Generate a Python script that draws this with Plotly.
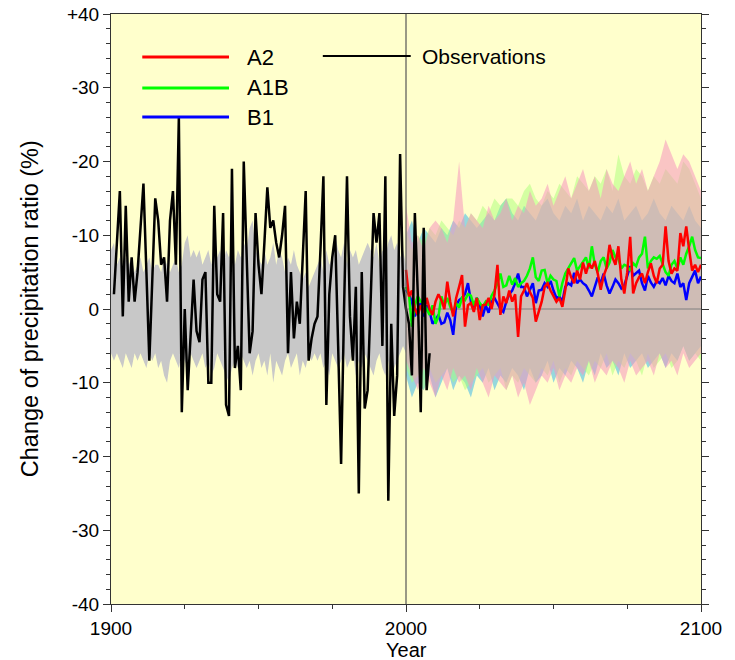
import plotly.graph_objects as go

FONT = "Liberation Sans, Arial, sans-serif"

# ---------------- data ----------------
obs_years = list(range(1901, 2009))
obs_values = [2, 9, 16, -1, 14, 1, 7, 1, 5, 11,
              17, 5, -7, 4, 15, 12, 6, 7, 1, 12,
              16, 6, 26, -14, 0, -11, -3, 4, -3, -4.5,
              4, 5, -10, -10, 14, 2, 1, 13, -13, -14.5,
              19, -8, -5, -11, 20, 7, -6, -3, 13, 6,
              2, 9, 16.5, 11, 12, 9, 7, 10, 14, -6,
              5, -4, 1, -2, 7, 16, -7, -4, -2, -1,
              8, 18, -13, 2, 7, 10, -5, -21, 0, 18,
              -1, -7, 3, -25, 5, -13.5, -11, 2, 13, 9,
              13, -5, 18, -26, -2, -14.5, -9, 21, 3, 0,
              -2, -9, 13, 2, -14, 11, -11, -6]

hist_years = list(range(1900, 2001))
hist_upper = [8, 9, 6, 7, 5, 7, 6, 7, 5, 6,
              7, 5, 6, 7, 5, 6, 6, 5, 7, 6,
              5, 6, 7, 5, 6, 9, 10, 7, 8, 7,
              8, 6, 7, 8, 6, 9, 7, 8, 6, 8,
              7, 9, 6, 8, 7, 9, 8, 11, 12, 8,
              7, 6, 8, 6, 7, 9, 6, 8, 7, 5,
              7, 6, 8, 6, 5, 4, 5, 3, 4, 5,
              6, 7, 5, 8, 6, 7, 10, 8, 7, 9,
              6, 8, 7, 8, 6, 7, 8, 9, 8, 7,
              9, 6, 8, 7, 9, 10, 8, 9, 7, 8,
              6]
hist_lower = [-6, -7, -6, -7, -8, -6, -7, -8, -6, -7,
              -6, -7, -8, -6, -7, -6, -8, -7, -9, -10,
              -7, -6, -7, -8, -6, -7, -8, -6, -7, -8,
              -7, -6, -8, -7, -9, -8, -6, -7, -8, -9,
              -10, -8, -7, -8, -6, -7, -8, -7, -9, -7,
              -6, -8, -7, -9, -6, -10, -7, -8, -9, -7,
              -6, -8, -7, -6, -9, -7, -8, -6, -7, -6,
              -7, -6, -8, -7, -9, -6, -7, -8, -7, -6,
              -8, -7, -6, -9, -7, -8, -6, -7, -8, -9,
              -7, -6, -8, -9, -7, -10, -8, -7, -6, -5,
              -6]

band_years = list(range(2000, 2101, 2))
a2_upper = [14, 9, 10, 8, 11, 12, 11, 9, 12, 20,
            11, 13, 12, 11, 14, 12, 13, 15, 12, 14,
            13, 16, 14, 15, 17, 14, 16, 18, 15, 17,
            19, 16, 18, 15, 19, 17, 16, 18, 20, 17,
            19, 16, 18, 20, 23, 21, 19, 21, 20, 18,
            16]
a2_lower = [-7, -9, -11, -8, -10, -12, -9, -11, -8, -10,
            -9, -11, -8, -10, -12, -9, -10, -11, -9, -12,
            -10, -13, -11, -9, -10, -8, -11, -9, -10, -8,
            -9, -7, -10, -8, -9, -7, -8, -10, -7, -9,
            -8, -7, -9, -6, -8, -7, -9, -6, -8, -7,
            -6]
a1b_upper = [11, 8, 10, 9, 11, 10, 12, 11, 10, 12,
             11, 13, 12, 14, 13, 15, 14, 15, 15, 14,
             16, 17, 15, 14, 16, 15, 17, 16, 15, 18,
             17, 16, 18, 17, 19, 16, 21, 18, 17, 19,
             18, 16, 18, 17, 19, 18, 17, 20, 19, 17,
             15]
a1b_lower = [-8, -10, -9, -11, -8, -10, -9, -8, -10, -9,
             -11, -10, -9, -8, -10, -9, -8, -11, -9, -10,
             -8, -9, -10, -8, -9, -7, -10, -8, -9, -7,
             -8, -9, -7, -8, -6, -9, -7, -8, -6, -7,
             -9, -6, -8, -7, -6, -8, -7, -5, -7, -6,
             -7]
b1_upper = [10, 12, 9, 11, 10, 9, 11, 10, 12, 11,
            13, 12, 11, 12, 13, 12, 14, 15, 13, 12,
            14, 13, 12, 14, 15, 13, 12, 14, 13, 15,
            12, 14, 13, 12, 14, 13, 15, 12, 13, 14,
            12, 13, 15, 13, 12, 14, 13, 12, 14, 12,
            11]
b1_lower = [-9, -12, -10, -11, -9, -12, -10, -8, -11, -9,
            -10, -12, -9, -10, -8, -11, -9, -10, -8, -9,
            -11, -8, -10, -9, -7, -10, -8, -9, -7, -8,
            -10, -7, -9, -6, -8, -7, -9, -6, -8, -7,
            -6, -8, -7, -6, -8, -6, -7, -5, -7, -6,
            -5]

proj_years = list(range(2000, 2101))
a2_mean = [5.3, 1.7, 2.5, 0, -0.8, 0.5, -0.5, 1.5, 0, -0.8,
           1, 2, 1.2, 0, 3.7, 1, -1, 1.5, 3, 4.6,
           -2.4, 0.5, 0.8, -0.4, 1.5, -1.5, 0.5, 0.6, 1.5, 0,
           2, 6, -0.8, 1.7, 0.8, 2.5, 1, 2, -3.8, 1.7,
           2.5, 3.5, 2.3, 1.5, -1.7, -0.2, 1, 3, 3.5, 2.5,
           1.7, 1, 1.5, 0.3, 2.6, 5.5, 4.3, 3.5, 5.2, 4,
           6.3, 4.8, 6.2, 5.5, 6.5, 4.8, 2.6, 4.5, 5.6, 8.7,
           7, 6, 8.5, 4, 2.1, 5, 9.8, 2.1, 3.5, 4.3,
           4.8, 3.5, 5, 6.2, 4.5, 3.5, 5.5, 6, 11.2, 6.5,
           4.8, 5.5, 5.2, 10.3, 8.5, 11.2, 8, 5.2, 6, 5,
           6]
a1b_mean = [3, 2, -2.4, 0.5, 1.7, 1, 0.8, 0, -0.8, 0.5,
            -2, -1, 1.7, 0.5, 1.5, 0.3, -0.5, 0.8, 0.2, 1.5,
            1.2, 2, 1.8, 0.5, 1.5, 0.8, 0.3, 1, 0.5, 1.8,
            2.5, 3.5, 4.8, 3, 3.2, 4.5, 3.3, 4.2, 3, 3.5,
            3.8, 4.5, 5.5, 7, 4.3, 3.8, 5.2, 5.3, 3.5, 4.5,
            4, 3.8, 1.7, 3.5, 4.8, 5.5, 6.2, 6.9, 5.2, 5.8,
            6.5, 7, 5.5, 8.5, 6, 5, 6.5, 7, 5.5, 6.3,
            8, 7, 6.8, 5.5, 6, 5.8, 5.2, 6.2, 5.8, 7,
            7.5, 9.8, 5.5, 6.5, 7, 6.8, 7.2, 6, 5, 4.5,
            6, 6.5, 5.5, 7, 6, 7.5, 8.5, 9.8, 8, 7,
            6.9]
b1_mean = [2.6, 2, 1, -1, 0, 0.8, -1, 0.5, -0.3, -2,
           -1.5, -0.8, -2, -1.8, -0.5, -1.5, -3.5, 0.5, 1.2, 1.5,
           2, 3.5, 1, 0, 1.5, 0.5, -1, 0.5, -0.5, 1,
           1.5, 0.8, 0, -0.4, 1, 2, 2.5, 3.5, 4.8, 3,
           3, 1.7, 2.5, 3.5, 0.8, 2.5, 2.6, 3.5, 3, 3.8,
           2.5, 1.5, 1.7, 1, 3, 3.5, 3.2, 4.9, 3.5, 4,
           3.5, 3.2, 2.5, 1.7, 3, 4.3, 3.5, 4.8, 3.2, 2.1,
           3, 4, 3.5, 2.8, 3.2, 4.4, 5.8, 4.5, 4.8, 5.2,
           3.5, 2.5, 4.5, 3.6, 3, 3.8, 3.5, 4.2, 3.2, 4.5,
           3.8, 3.5, 4.8, 3, 3.5, 1.2, 3.5, 4.4, 5.2, 3.5,
           4.4]

y_tickvals = [40, 30, 20, 10, 0, -10, -20, -30, -40]
y_ticktext = ["+40", "-30", "-20", "-10", "0", "-10", "-20", "-30", "-40"]
x_tickvals = [1900, 2000, 2100]
x_ticktext = ["1900", "2000", "2100"]

scenario_names = ["A2", "A1B", "B1"]
scenario_colors = ["#ff0000", "#00ff00", "#0000ff"]

# ---------------- figure ----------------
fig = go.Figure()

def band(years, lower, upper, color):
    fig.add_trace(go.Scatter(x=years, y=lower, mode="lines", line=dict(width=0),
                             hoverinfo="skip", showlegend=False))
    fig.add_trace(go.Scatter(x=years, y=upper, mode="lines", line=dict(width=0),
                             fill="tonexty", fillcolor=color,
                             hoverinfo="skip", showlegend=False))

band(band_years, b1_lower, b1_upper, "rgba(80,190,230,0.6)")
band(band_years, a1b_lower, a1b_upper, "rgba(170,255,120,0.5)")
band(band_years, a2_lower, a2_upper, "rgba(245,150,190,0.55)")
band(hist_years, hist_lower, hist_upper, "#c8c8c8")

# zero line for projection period
fig.add_trace(go.Scatter(x=[proj_years[0], proj_years[-1]], y=[0, 0], mode="lines",
                         line=dict(color="#808080", width=1),
                         hoverinfo="skip", showlegend=False))

for name, vals, col in [("B1", b1_mean, "#0000ff"), ("A1B", a1b_mean, "#00ff00"),
                        ("A2", a2_mean, "#ff0000")]:
    fig.add_trace(go.Scatter(x=proj_years, y=vals, mode="lines", name=name,
                             line=dict(color=col, width=2.5),
                             hoverinfo="skip", showlegend=False))

fig.add_trace(go.Scatter(x=obs_years, y=obs_values, mode="lines", name="Observations",
                         line=dict(color="#000000", width=2.5),
                         hoverinfo="skip", showlegend=False))

# vertical line at 2000
fig.add_shape(type="line", xref="x", yref="paper", x0=2000, x1=2000, y0=0, y1=1,
              line=dict(color="#555555", width=1.2))

# custom legend
leg_y = [0.927, 0.8746, 0.8254]
for name, col, yy in zip(scenario_names, scenario_colors, leg_y):
    fig.add_shape(type="line", xref="paper", yref="paper", x0=0.053, x1=0.2,
                  y0=yy, y1=yy, line=dict(color=col, width=3))
    fig.add_annotation(xref="paper", yref="paper", x=0.227, y=yy, text=name,
                       showarrow=False, xanchor="left", yanchor="middle",
                       font=dict(family=FONT, size=22, color="#000000"))
fig.add_shape(type="line", xref="paper", yref="paper", x0=0.359, x1=0.508,
              y0=0.9288, y1=0.9288, line=dict(color="#000000", width=2))
fig.add_annotation(xref="paper", yref="paper", x=0.523, y=0.9288, text="Observations",
                   showarrow=False, xanchor="left", yanchor="middle",
                   font=dict(family=FONT, size=21, color="#000000"))

# axis titles
fig.add_annotation(xref="paper", yref="paper", x=0.5, y=-0.078, text="Year",
                   showarrow=False, xanchor="center", yanchor="middle",
                   font=dict(family=FONT, size=20, color="#000000"))
fig.add_annotation(xref="paper", yref="paper", x=-0.137, y=0.5,
                   text="Change of precipitation ratio (%)", textangle=-90,
                   showarrow=False, xanchor="center", yanchor="middle",
                   font=dict(family=FONT, size=23.5, color="#000000"))

fig.update_layout(
    width=735, height=660,
    margin=dict(l=111, r=34, t=14, b=56, autoexpand=False),
    paper_bgcolor="#ffffff",
    plot_bgcolor="#ffffcc",
    font=dict(family=FONT, size=19, color="#000000"),
    showlegend=False,
)
fig.update_xaxes(
    range=[1900, 2100], tickvals=x_tickvals, ticktext=x_ticktext,
    ticks="outside", ticklen=7, tickcolor="#333333", tickwidth=1,
    minor=dict(dtick=25, ticklen=4, tickcolor="#333333", ticks="outside", tick0=1900),
    showline=True, linecolor="#333333", linewidth=1, mirror=True,
    showgrid=False, zeroline=False, automargin=False,
    tickfont=dict(family=FONT, size=19),
)
fig.update_yaxes(
    range=[-40, 40], tickvals=y_tickvals, ticktext=y_ticktext,
    ticks="outside", ticklen=7, tickcolor="#333333", tickwidth=1,
    minor=dict(dtick=2, ticklen=4, tickcolor="#333333", ticks="outside", tick0=0),
    showline=True, linecolor="#333333", linewidth=1, mirror="ticks",
    showgrid=False, zeroline=False, automargin=False,
    tickfont=dict(family=FONT, size=19),
)

fig.write_html("out.html", config={"displayModeBar": False},
               post_script="document.body.style.margin='0';")
